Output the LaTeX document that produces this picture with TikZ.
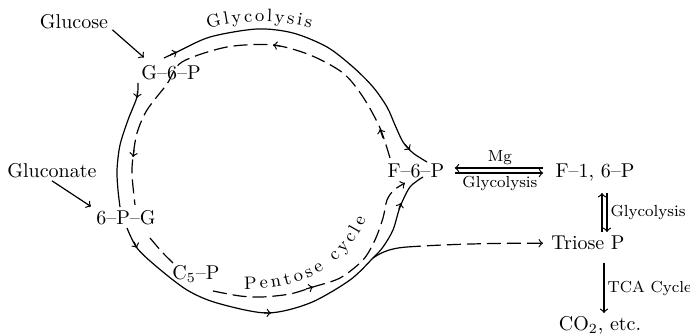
\documentclass[tikz,border=0pt]{standalone}
\usetikzlibrary{decorations.text}

\tikzset{
  >=to,
  mainline/.style={line width=0.6pt},
  backline/.style={line width=0.6pt, dash pattern=on 7pt off 3pt},
  chem/.style={anchor=base, inner sep=1pt},
  lbl/.style={font=\footnotesize, inner sep=1.5pt}
}

\begin{document}
\begin{tikzpicture}[x=0.5pt, y=-0.5pt]
        \useasboundingbox (0,0) rectangle (690,335);

        % Compounds
        \node[chem] (glucose) at (74,29) {Glucose};
        \node[chem] (gsixp) at (171,80) {G--6--P};
        \node[chem] (gluconate) at (52,178) {Gluconate};
        \node[chem] (pgsix) at (126,225) {6--P--G};
        \node[chem] (cfivep) at (196,280) {C$_5$--P};
        \node[chem] (fsixp) at (416,178) {F--6--P};
        \node[chem] (fonesixp) at (595,178) {F--1, 6--P};
        \node[chem] (triose) at (588,250) {Triose P};
        \node[chem] (cotwo) at (600,331) {CO$_2$, etc.};

        % Feeding arrows
        \draw[mainline,->] ([xshift=1pt,yshift=1pt]glucose.south east) -- ([xshift=2.5pt,yshift=3pt]gsixp.north west);
        \draw[mainline,->] (gluconate.south) -- ([xshift=-1.5pt,yshift=1pt]pgsix.north west);

        % Solid ring: glycolysis over the top
        \draw[mainline] plot[smooth] coordinates {(164,58) (177,52) (210,37) (257,29) (293,33) (327,47) (353,67) (373,87) (387,107) (395,125) (403,142) (413,153) (427,162)};

        % Solid ring: G-6-P down to 6-P-G
        \draw[mainline] plot[smooth] coordinates {(138,83) (137,97) (128,120) (120,145) (117,170) (118,190) (120,207)};

        % Solid ring: 6-P-G round the bottom up to F-6-P
        \draw[mainline] plot[smooth] coordinates {(127,228) (137,248) (157,267) (187,290) (217,303) (267,313) (310,303) (350,280) (373,258) (383,247) (393,230) (400,207) (410,187) (423,177)};

        % Dashed ring: F-6-P back over the top and down the left
        \draw[backline] plot[smooth] coordinates {(390,158) (380,128) (363,97) (343,73) (310,55) (273,45) (227,47) (182,62) (167,84) (147,110) (137,133) (133,157) (132,175) (135,205)};
        \draw[backline] plot[smooth] coordinates {(150,238) (162,252) (173,263)};

        % Dashed ring: pentose cycle
        \draw[backline, ->] plot[smooth] coordinates {(213,291) (240,296) (262,297) (290,294) (313,287) (340,278) (363,260) (375,240) (383,218) (387,200) (394,190) (405,183)};

        % Arrowheads along the ring
        \foreach \ax/\ay/\bx/\by in {170/55/177/52, 405/144.5/410/150, 137.6/91/137/98, 134/242/137/248, 264/312.8/271/313, 399/209/401/203}
          \draw[mainline,->] (\ax,\ay) -- (\bx,\by);
        \foreach \ax/\ay/\bx/\by in {383/138/380/129, 280/46/273/45, 134/150/133/157, 306/289/313/287}
          \draw[mainline,->] (\ax,\ay) -- (\bx,\by);

        % Branch to triose
        \coordinate (branch) at (373,258);
        \coordinate (brk) at (407,247);
        \draw[mainline] (branch) .. controls (383,251) and (393,248) .. (brk);
        \draw[backline, ->, shorten >=3pt] (brk) .. controls (450,244) and (500,243) .. (triose.west);

        % Ring labels
        \path[decorate, decoration={text along path, text={|\small|Glycolysis}, text align=fit to path}] (208,29) .. controls (240,19.5) and (278,19.5) .. (311,28);
        \path[decorate, decoration={text along path, text={|\small|Pentose cycle}, text align=fit to path}] (244,289) .. controls (300,290) and (345,268) .. (366,219);

        % F-6-P and F-1,6-P
        \draw[mainline, ->, shorten <=5pt, shorten >=4pt] ([yshift=5pt]fonesixp.base west) -- node[lbl, above] (mg) {Mg} ([yshift=5pt]fsixp.base east);
        \draw[mainline, ->, shorten <=4pt, shorten >=5pt] ([yshift=2.5pt]fsixp.base east) -- node[lbl, below] (glycmid) {Glycolysis} ([yshift=2.5pt]fonesixp.base west);

        % F-1,6-P and triose P
        \coordinate (uptop) at ([xshift=3.5pt,yshift=-7.5pt]fonesixp.base);
        \coordinate (dntop) at ([xshift=6pt,yshift=-7.5pt]fonesixp.base);
        \coordinate (lowend) at ([yshift=9pt]triose.base);
        \draw[mainline, ->] (uptop |- lowend) -- (uptop);
        \draw[mainline, ->] (dntop) -- node[lbl, right] (glycright) {Glycolysis} (dntop |- lowend);

        % Triose P to CO2
        \coordinate (tcatop) at ([xshift=8pt,yshift=-6.5pt]triose.base);
        \coordinate (tcaend) at ([yshift=9pt]cotwo.base);
        \draw[mainline, ->] (tcatop) -- node[lbl, right] (tca) {TCA Cycle} (tcatop |- tcaend);
\end{tikzpicture}
\end{document}
